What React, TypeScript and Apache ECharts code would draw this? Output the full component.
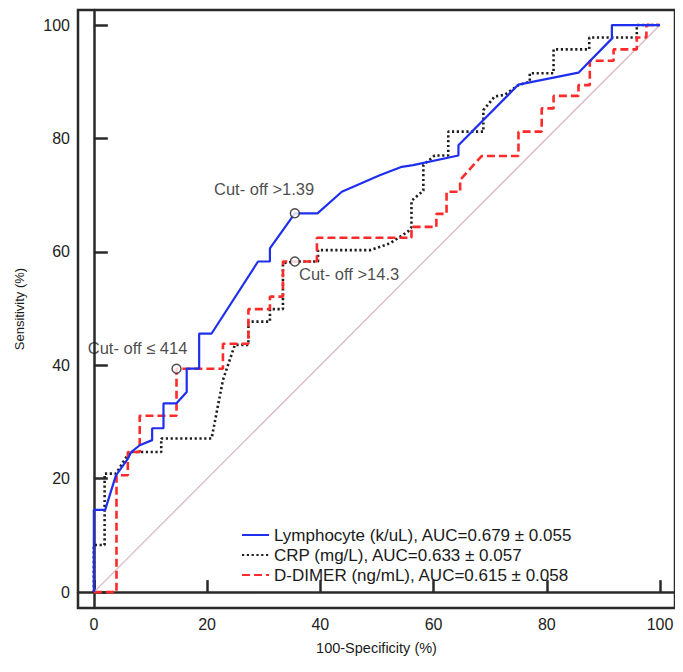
import React, { useEffect, useRef } from "react";
import * as echarts from "echarts";

const tickValues = [0, 20, 40, 60, 80, 100];

const lymphocyteName = "Lymphocyte (k/uL), AUC=0.679 ± 0.055";
const crpName = "CRP (mg/L), AUC=0.633 ± 0.057";
const ddimerName = "D-DIMER (ng/mL), AUC=0.615 ± 0.058";

const lymphocytePoints: number[][] = [
  [0, 0], [0, 14.5], [2.0, 14.5], [3.9, 20.6], [6.0, 23.5], [6.6, 24.7], [8.1, 25.9],
  [10.3, 26.8], [10.3, 28.9], [12.3, 28.9], [12.3, 33.3], [14.6, 33.3], [16.4, 35.3],
  [16.4, 39.4], [18.6, 39.4], [18.6, 45.6], [20.8, 45.6], [29.0, 58.3], [31.1, 58.3],
  [31.1, 60.6], [35.5, 66.8], [39.5, 66.8], [43.8, 70.6], [50.5, 73.5], [54.4, 75.0],
  [56.4, 75.3], [64.4, 77.0], [64.4, 78.8], [75.0, 89.5], [85.6, 91.6], [91.5, 97.6],
  [91.5, 100], [100, 100],
];

const crpPoints: number[][] = [
  [0, 0], [0, 8.3], [1.9, 8.3], [1.9, 20.9], [3.9, 20.9], [6.3, 24.7], [11.9, 24.7],
  [11.9, 27.1], [20.8, 27.1], [22.8, 37.4], [24.9, 43.6], [27.3, 43.6], [27.3, 47.7],
  [31.1, 47.7], [31.1, 49.9], [33.4, 49.9], [33.4, 58.0], [35.5, 58.3], [39.6, 58.3],
  [39.6, 60.3], [48.8, 60.3], [52.3, 61.5], [55.5, 63.6], [56.1, 64.4], [56.1, 69.0],
  [58.2, 70.8], [58.2, 75.3], [60.2, 77.0], [62.6, 77.0], [62.6, 81.2], [68.8, 81.2],
  [68.8, 85.0], [70.8, 87.4], [72.6, 87.7], [75.0, 89.4], [77.0, 90.0], [77.0, 91.5],
  [81.2, 91.5], [81.2, 95.7], [87.5, 95.7], [87.5, 97.8], [95.9, 97.8], [95.9, 100],
  [100, 100],
];

const ddimerPoints: number[][] = [
  [0, 0], [4.0, 0], [4.0, 20.6], [6.0, 20.6], [6.0, 24.7], [8.1, 24.7], [8.1, 31.1],
  [14.6, 31.1], [14.6, 39.4], [22.8, 39.4], [22.8, 43.8], [27.3, 43.8], [27.3, 49.9],
  [31.1, 49.9], [31.1, 52.1], [33.4, 52.1], [33.4, 58.3], [39.4, 58.3], [39.4, 62.5],
  [56.1, 62.5], [56.1, 64.4], [60.5, 64.4], [60.5, 66.7], [62.3, 66.7], [62.3, 70.6],
  [64.7, 70.6], [64.7, 72.7], [68.5, 76.9], [75.0, 76.9], [75.0, 81.2], [79.1, 81.2],
  [79.1, 85.3], [81.2, 85.3], [81.2, 87.5], [85.6, 87.5], [85.6, 89.4], [87.6, 89.4],
  [87.6, 93.7], [91.8, 93.7], [91.8, 95.7], [95.9, 95.7], [95.9, 97.8], [97.6, 97.8],
  [97.6, 100], [100, 100],
];

const referencePoints: number[][] = [[0, 0], [100, 100]];

const cutoffPoints: number[][] = [[14.6, 39.4], [35.5, 66.8], [35.5, 58.3]];
const cutoffLabels = ["Cut- off ≤ 414", "Cut- off >1.39", "Cut- off >14.3"];

const FONT = "'Liberation Sans', Arial, Helvetica, sans-serif";

export default function App() {
  const ref = useRef<HTMLDivElement>(null);

  useEffect(() => {
    if (!ref.current) return;
    const chart = echarts.init(ref.current, undefined, { renderer: "svg" });

    const labelOffsets: number[][] = [[-33.7, -15.8], [-25.5, -18.8], [59.5, 17.8]];

    const option: any = {
      animation: false,
      backgroundColor: "#ffffff",
      textStyle: { fontFamily: FONT },
      grid: {
        left: 78,
        right: 8,
        top: 10,
        bottom: 64,
        show: true,
        borderColor: "#2a2a2a",
        borderWidth: 2.5,
        backgroundColor: "transparent",
      },
      legend: {
        data: [lymphocyteName, crpName, ddimerName],
        orient: "vertical",
        left: 236,
        top: 521,
        itemWidth: 27,
        itemHeight: 14,
        itemGap: 2,
        selectedMode: false,
        itemStyle: { opacity: 0 },
        textStyle: {
          fontFamily: FONT,
          fontSize: 17,
          color: "#1a1a1a",
          padding: [0, 0, 0, 0],
          lineHeight: 18,
        },
      },
      xAxis: {
        type: "value",
        min: -2.8,
        max: 102.65,
        name: "100-Specificity (%)",
        nameLocation: "middle",
        nameGap: 32,
        nameTextStyle: { fontFamily: FONT, fontSize: 14.5, color: "#1a1a1a" },
        axisLine: { show: true, lineStyle: { color: "#2a2a2a", width: 2.5 } },
        axisTick: {
          show: true,
          inside: true,
          length: 12,
          customValues: tickValues,
          lineStyle: { color: "#2a2a2a", width: 2.5 },
        },
        axisLabel: {
          customValues: tickValues,
          fontFamily: FONT,
          fontSize: 16,
          color: "#222",
          margin: 8,
        },
        splitLine: { show: false },
      },
      yAxis: {
        type: "value",
        min: -2.8,
        max: 102.65,
        name: "Sensitivity (%)",
        nameLocation: "middle",
        nameGap: 52,
        nameTextStyle: { fontFamily: FONT, fontSize: 13, color: "#1a1a1a" },
        axisLine: { show: true, lineStyle: { color: "#2a2a2a", width: 2.5 } },
        axisTick: {
          show: true,
          inside: true,
          length: 14,
          customValues: tickValues,
          lineStyle: { color: "#2a2a2a", width: 2.5 },
        },
        axisLabel: {
          customValues: tickValues,
          fontFamily: FONT,
          fontSize: 16,
          color: "#222",
          margin: 8,
        },
        splitLine: { show: false },
      },
      series: [
        {
          type: "line",
          name: "reference",
          data: referencePoints,
          symbol: "none",
          lineStyle: { color: "#d9b8c8", width: 1.3 },
          silent: true,
          z: 1,
        },
        {
          type: "line",
          name: crpName,
          data: crpPoints,
          symbol: "none",
          color: "#1e1e1e",
          lineStyle: { color: "#1e1e1e", width: 2.6, type: [2.2, 2.6] },
          z: 2,
        },
        {
          type: "line",
          name: ddimerName,
          data: ddimerPoints,
          symbol: "none",
          color: "#ff2a2a",
          lineStyle: { color: "#ff2a2a", width: 2.6, type: [8, 4] },
          z: 3,
        },
        {
          type: "line",
          name: lymphocyteName,
          data: lymphocytePoints,
          symbol: "none",
          color: "#1f2ff0",
          lineStyle: { color: "#1f2ff0", width: 2.2 },
          z: 4,
        },
        {
          type: "scatter",
          name: "cutoffs",
          symbol: "circle",
          symbolSize: 9,
          z: 5,
          itemStyle: { color: "#ffffff", borderColor: "#222", borderWidth: 1.5 },
          data: cutoffPoints.map((p, i) => ({
            value: p,
            label: {
              show: true,
              formatter: cutoffLabels[i],
              position: labelOffsets[i],
              align: "center",
              verticalAlign: "middle",
              fontFamily: FONT,
              fontSize: 16.5,
              color: "#1a1a1a",
            },
          })),
        },
      ],
    };

    chart.setOption(option);
    return () => chart.dispose();
  }, []);

  return <div ref={ref} style={{ width: 683, height: 672, margin: -8 }} />;
}
